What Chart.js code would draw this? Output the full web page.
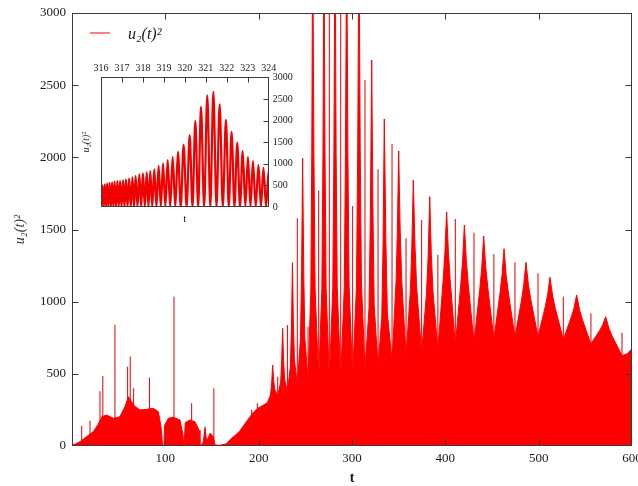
<!DOCTYPE html>
<html>
<head>
<meta charset="utf-8">
<script src="https://cdn.jsdelivr.net/npm/chart.js@4.4.1/dist/chart.umd.min.js"></script>
<style>
  html, body { margin: 0; padding: 0; background: #ffffff; }
  #wrap { position: relative; width: 638px; height: 486px; overflow: hidden; }
  #main { position: absolute; left: 0; top: 0; }
  #inset { position: absolute; left: 78px; top: 55px; }
</style>
</head>
<body>
<div id="wrap">
  <canvas id="main" width="638" height="486"></canvas>
  <canvas id="inset" width="216" height="172"></canvas>
</div>
<script>
// ---------------- data ----------------
const mainXTicks = [100, 200, 300, 400, 500, 600];
const mainYTicks = [0, 500, 1000, 1500, 2000, 2500, 3000];

// outline of the dense (filled) part of u2(t)^2
const envT = [0,4,8.6,15.7,22.9,28,32,37.1,44.3,51.4,
  56.8,60.4,63.9,67.5,72.9,80,87.1,92.5,95.4,97.1,
  98.5,99.3,103.3,108.6,115.7,118.6,120,121.4,126.4,131.8,
  136.1,137.1,138.5,140.7,142.5,144.3,147.9,151.4,153.2,158.6,
  165.7,169.3,175,180,187,194,198.6,201.6,209.3,
  212.7,213.9,215,216.1,217.2,220.4,
  223.6,224.6,225.7,226.7,227.8,230.8,
  234.0,235.1,236.2,237.2,238.3,241.4,
  244.8,246.0,247.1,248.3,249.4,252.9,
  255.9,256.9,257.9,259.2,260.5,264.3,
  267.7,268.9,270.0,271.1,272.3,275.7,
  279.4,280.6,281.8,283.0,284.2,287.9,
  291.7,293.0,294.3,295.6,296.9,300.7,
  304.8,306.1,307.5,308.8,310.1,313.9,
  318.2,319.7,321.1,322.5,323.8,327.9,
  331.9,333.3,334.6,336.3,337.9,342.9,
  347.2,348.6,350.0,351.6,353.2,357.9,
  362.6,364.1,365.7,367.5,369.3,374.6,
  379.8,381.6,383.3,385.0,386.8,392.0,
  397.6,399.5,401.4,403.3,405.1,410.7,
  416.5,418.5,420.4,422.5,424.5,430.7,
  436.9,439.0,441.1,443.3,445.5,452.0,
  458.5,460.7,462.9,465.2,467.6,474.6,
  481.7,484.0,486.4,489.0,491.6,499.3,
  507.0,509.5,512.1,515.0,517.8,526.4,
  535.0,537.8,540.7,543.8,546.8,556.0,
  565.5,568.6,571.8,575.3,578.8,589.3,
  595,600];
const envV = [5,15,30,65,100,150,203,215,192,203,
  273,342,307,273,250,254,261,238,134,2,
  2,145,192,199,180,88,2,162,180,168,
  110,2,5,30,122,30,88,65,7,5,
  16,44,75,105,170,230,260,270,300,
  352,430,561,455,392,350,
  443,583,815,595,463,375,
  554,823,1270,850,598,430,
  743,1212,1993,1222,759,450,
  1080,2025,3600,2030,1088,460,
  1088,2030,3600,2031,1090,462,
  1090,2031,3600,2035,1096,470,
  1096,2035,3600,2043,1108,485,
  1108,2043,3600,2060,1136,520,
  951,1598,2675,1613,975,550,
  893,1408,2266,1426,921,585,
  1139,1490,2044,1503,1161,620,
  1085,1378,1843,1388,1100,645,
  1057,1316,1728,1324,1069,665,
  1144,1335,1622,1345,1161,700,
  1116,1282,1531,1287,1124,716,
  1086,1233,1455,1241,1098,741,
  1054,1179,1367,1183,1060,753,
  1013,1117,1273,1118,1015,757,
  963,1045,1169,1040,954,739,
  893,954,1046,944,877,707,
  802,839,896,815,761,626,
  640,675];

// isolated thin bursts (time, peak value)
const spikeT = [10.4,19.3,30,33,46,59.6,62.4,66,83,109.3,
  128.2,142.5,152,192.5,198.6,220.4,230.8,241.4,252.9,264.3,
  275.7,287.9,300.7,313.9,327.9,342.9,357.9,374.6,392,410.7,
  430.7,452,474.6,499.3,526.4,556,589.3];
const spikeV = [140,176,380,485,840,550,620,400,474,1035,
  296,135,400,250,296,480,838,1578,827,1770,
  3600,3600,1663,2536,1917,2093,1439,1566,1324,1573,
  1478,1330,1273,1197,1035,919,785];

// inset: zeros and maxima of u2(t)^2 between t = 316 and 324
const insetXTicks = [316, 317, 318, 319, 320, 321, 322, 323, 324];
const insetYTicks = [0, 500, 1000, 1500, 2000, 2500, 3000];
const insetT = [315.905,315.96,316.015,316.07,316.125,316.18,316.235,316.29,316.35,316.41,
  316.47,316.53,316.59,316.65,316.715,316.78,316.845,316.91,316.98,317.05,
  317.12,317.19,317.265,317.34,317.42,317.50,317.575,317.65,317.74,317.83,
  317.915,318.00,318.09,318.18,318.265,318.35,318.445,318.54,318.645,318.75,
  318.855,318.96,319.07,319.18,319.30,319.42,319.545,319.67,319.805,319.94,
  320.085,320.23,320.365,320.50,320.635,320.77,320.92,321.07,321.215,321.36,
  321.51,321.66,321.81,321.96,322.095,322.23,322.365,322.50,322.63,322.76,
  322.885,323.01,323.13,323.25,323.38,323.51,323.63,323.75,323.875,324.00,
  324.12,324.24];
const insetV = [0,470,0,500,0,525,0,545,0,560,
  0,572,0,585,0,597,0,607,0,623,
  0,638,0,661,0,684,0,715,0,754,
  0,777,0,800,0,831,0,869,0,954,
  0,1008,0,1085,0,1162,0,1277,0,1446,
  0,1662,0,1992,0,2315,0,2585,0,2662,
  0,2377,0,2023,0,1739,0,1492,0,1292,
  0,1162,0,1062,0,969,0,908,0,840,
  0,790];

const seriesLabel = 'u\u2082(t)\u00b2';

// ---------------- styling ----------------
const FONT = '"Liberation Serif", "DejaVu Serif", serif';
const AXIS = '#3a3a3a';
const TEXT = '#1a1a1a';
const RED = '#ff0000';

// ---------------- build datasets from the arrays ----------------
const envData = envT.map((t, i) => ({ x: t, y: envV[i] }));
const spikeData = [];
spikeT.forEach((t, i) => { spikeData.push({ x: t, y: 0 }, { x: t, y: spikeV[i] }, { x: t, y: null }); });
const insetData = insetT.map((t, i) => ({ x: t, y: insetV[i] }));

// frame + inward ticks drawn through the chart's scales
function framePlugin(cfg) {
  return {
    id: 'frame_' + cfg.name,
    afterDatasetsDraw(chart) {
      const { ctx, chartArea: a } = chart;
      const xs = chart.scales[cfg.x], ys = chart.scales[cfg.y];
      const L = cfg.len;
      ctx.save();
      ctx.strokeStyle = AXIS;
      ctx.lineWidth = 1;
      const l = Math.round(a.left) + 0.5, r = Math.round(a.right) - 0.5;
      const t = Math.round(a.top) + 0.5, b = Math.round(a.bottom) - 0.5;
      ctx.strokeRect(l, t, r - l, b - t);
      ctx.beginPath();
      cfg.xTicks.forEach(v => {
        const px = Math.round(xs.getPixelForValue(v)) + 0.5;
        if (px <= l + 1 || px >= r - 1) return;
        if (cfg.bottom) { ctx.moveTo(px, b); ctx.lineTo(px, b - L); }
        if (cfg.top) { ctx.moveTo(px, t); ctx.lineTo(px, t + L); }
      });
      cfg.yTicks.forEach(v => {
        const py = Math.round(ys.getPixelForValue(v)) + 0.5;
        if (py <= t + 1 || py >= b - 1) return;
        if (cfg.left) { ctx.moveTo(l, py); ctx.lineTo(l + L, py); }
        if (cfg.right) { ctx.moveTo(r, py); ctx.lineTo(r - L, py); }
      });
      ctx.stroke();
      ctx.restore();
    }
  };
}

const legendPlugin = {
  id: 'legendBox',
  afterDraw(chart) {
    const { ctx, chartArea: a } = chart;
    const ds = chart.data.datasets[0];
    ctx.save();
    ctx.strokeStyle = RED;
    ctx.lineWidth = 1;
    ctx.beginPath();
    ctx.moveTo(a.left + 18, a.top + 20);
    ctx.lineTo(a.left + 38, a.top + 20);
    ctx.stroke();
    ctx.fillStyle = TEXT;
    ctx.font = 'italic 16px ' + FONT;
    ctx.textBaseline = 'alphabetic';
    ctx.textAlign = 'left';
    ctx.fillText(ds.label, a.left + 56, a.top + 25.5);
    ctx.restore();
  }
};

// ---------------- main chart ----------------
new Chart(document.getElementById('main'), {
  type: 'line',
  data: {
    datasets: [
      { label: seriesLabel, data: envData, borderColor: RED, backgroundColor: RED,
        borderWidth: 1, fill: 'origin', pointRadius: 0, tension: 0 },
      { label: 'bursts', data: spikeData, borderColor: 'rgb(228,0,0)',
        borderWidth: 1, fill: false, pointRadius: 0, spanGaps: false }
    ]
  },
  options: {
    responsive: false, animation: false, devicePixelRatio: 1,
    layout: { padding: { top: 13, right: 6, left: 0, bottom: 0 } },
    plugins: { legend: { display: false }, tooltip: { enabled: false } },
    scales: {
      x: {
        type: 'linear', position: 'bottom', min: 0, max: 600,
        afterBuildTicks: s => { s.ticks = mainXTicks.map(v => ({ value: v })); },
        afterFit: s => { s.height = 40; s.paddingLeft = 0; s.paddingRight = 0; },
        grid: { display: false, drawTicks: false }, border: { display: false },
        ticks: { font: { family: FONT, size: 13 }, color: TEXT, padding: 5,
                 autoSkip: false, maxRotation: 0, callback: v => String(v) },
        title: { display: true, text: 't', color: TEXT,
                 font: { family: FONT, size: 14, weight: 'bold', lineHeight: 1 },
                 padding: { top: 0, bottom: 0.5 } }
      },
      y: {
        type: 'linear', position: 'left', min: 0, max: 3000,
        afterBuildTicks: s => { s.ticks = mainYTicks.map(v => ({ value: v })); },
        afterFit: s => { s.width = 72; s.paddingTop = 0; s.paddingBottom = 0; },
        grid: { display: false, drawTicks: false }, border: { display: false },
        ticks: { font: { family: FONT, size: 13 }, color: TEXT, padding: 6,
                 autoSkip: false, callback: v => String(v) },
        title: { display: true, text: seriesLabel, color: '#333',
                 font: { family: FONT, size: 14, style: 'italic', lineHeight: 1 },
                 padding: { top: 13, bottom: 0 } }
      }
    }
  },
  plugins: [
    framePlugin({ name: 'main', x: 'x', y: 'y', len: 6, xTicks: mainXTicks, yTicks: mainYTicks,
                  top: true, bottom: true, left: true, right: true }),
    legendPlugin
  ]
});

// ---------------- inset chart ----------------
new Chart(document.getElementById('inset'), {
  type: 'line',
  data: {
    datasets: [
      { label: seriesLabel, data: insetData, borderColor: 'rgb(242,0,0)', borderWidth: 2.2,
        fill: false, pointRadius: 0, cubicInterpolationMode: 'monotone', xAxisID: 'x', yAxisID: 'y' }
    ]
  },
  options: {
    responsive: false, animation: false, devicePixelRatio: 1,
    layout: { padding: 0 },
    plugins: { legend: { display: false }, tooltip: { enabled: false } },
    scales: {
      x: {
        type: 'linear', position: 'top', min: 316, max: 324,
        afterBuildTicks: s => { s.ticks = insetXTicks.map(v => ({ value: v })); },
        afterFit: s => { s.height = 22.3; s.paddingLeft = 0; s.paddingRight = 0; },
        grid: { display: false, drawTicks: false }, border: { display: false },
        ticks: { font: { family: FONT, size: 10 }, color: TEXT, padding: 3,
                 autoSkip: false, maxRotation: 0, callback: v => String(v) }
      },
      x2: {
        type: 'linear', position: 'bottom', min: 316, max: 324,
        afterFit: s => { s.height = 20; s.paddingLeft = 0; s.paddingRight = 0; },
        grid: { display: false, drawTicks: false }, border: { display: false },
        ticks: { display: false },
        title: { display: true, text: 't', color: TEXT,
                 font: { family: FONT, size: 11, lineHeight: 1 }, padding: { top: 0, bottom: 2 } }
      },
      y: {
        type: 'linear', position: 'right', min: 0, max: 3000,
        afterBuildTicks: s => { s.ticks = insetYTicks.map(v => ({ value: v })); },
        afterFit: s => { s.width = 25.3; s.paddingTop = 0; s.paddingBottom = 0; },
        grid: { display: false, drawTicks: false }, border: { display: false },
        ticks: { font: { family: FONT, size: 10 }, color: TEXT, padding: 4,
                 autoSkip: false, callback: v => String(v) }
      },
      y2: {
        type: 'linear', position: 'left', min: 0, max: 3000,
        afterFit: s => { s.width = 23; s.paddingTop = 0; s.paddingBottom = 0; },
        grid: { display: false, drawTicks: false }, border: { display: false },
        ticks: { display: false },
        title: { display: true, text: seriesLabel, color: '#333',
                 font: { family: FONT, size: 10, style: 'italic', lineHeight: 1 },
                 padding: { top: 3, bottom: 0 } }
      }
    }
  },
  plugins: [
    framePlugin({ name: 'inset', x: 'x', y: 'y', len: 5, xTicks: insetXTicks, yTicks: insetYTicks,
                  top: true, bottom: false, left: false, right: true })
  ]
});
</script>
</body>
</html>
